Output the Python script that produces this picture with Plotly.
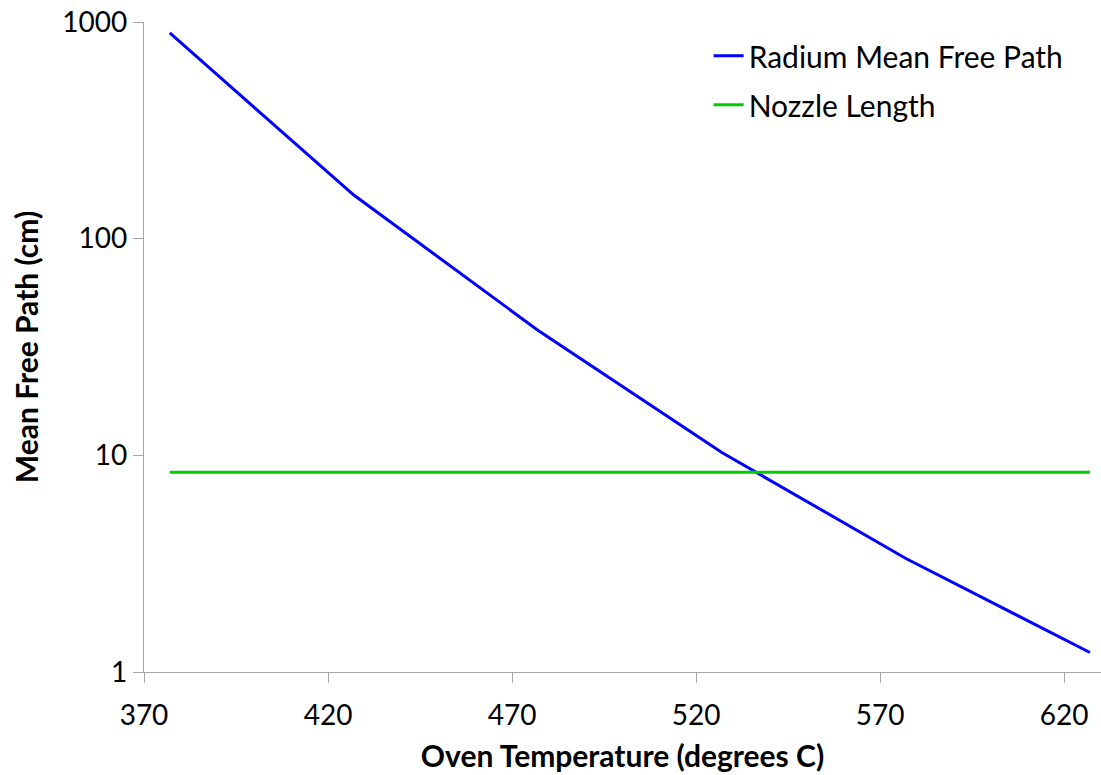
import plotly.graph_objects as go

temps_c = [377, 427, 477, 527, 577, 627]
radium_mfp_cm = [890, 159, 37.8, 10.3, 3.34, 1.23]
nozzle_temps_c = [377, 627]
nozzle_length_cm = [8.35, 8.35]
x_ticks = [370, 420, 470, 520, 570, 620]
y_ticks = [1, 10, 100, 1000]
y_tick_text = ["1", "10", "100", "1000"]

FONT = "Lato"

fig = go.Figure()
fig.add_trace(go.Scatter(x=temps_c, y=radium_mfp_cm, mode="lines",
                         name="Radium Mean Free Path", legendgroup="a",
                         line=dict(color="#0000FF", width=3)))
fig.add_trace(go.Scatter(x=nozzle_temps_c, y=nozzle_length_cm, mode="lines",
                         name="Nozzle Length", legendgroup="b",
                         line=dict(color="#00CC00", width=3)))

axis_common = dict(showgrid=False, zeroline=False, showline=True,
                   linecolor="#A6A6A6", linewidth=1.3, ticks="outside",
                   tickcolor="#A6A6A6", ticklen=10, tickwidth=1.3,
                   tickfont=dict(family=FONT, size=28, color="#000000"))

fig.update_xaxes(range=[370, 630], tickvals=x_ticks, **axis_common,
                 ticklabelstandoff=8,
                 title=dict(text="<b>Oven Temperature (degrees C)</b>",
                            font=dict(family=FONT, size=30, color="#000000"),
                            standoff=16))
fig.update_yaxes(type="log", range=[0, 3], tickvals=y_ticks, ticktext=y_tick_text,
                 **axis_common,
                 title=dict(text="<b>Mean Free Path (cm)</b>",
                            font=dict(family=FONT, size=30, color="#000000"),
                            standoff=14))

fig.update_layout(
    width=1101, height=775,
    margin=dict(l=144, r=0, t=22, b=103, autoexpand=False),
    paper_bgcolor="white", plot_bgcolor="white",
    font=dict(family=FONT, color="#000000"),
    legend=dict(x=0.59, y=0.988, xanchor="left", yanchor="top",
                font=dict(family=FONT, size=30, color="#000000"),
                bgcolor="rgba(0,0,0,0)", traceorder="grouped",
                tracegroupgap=7),
)

fig.write_html("out.html")
